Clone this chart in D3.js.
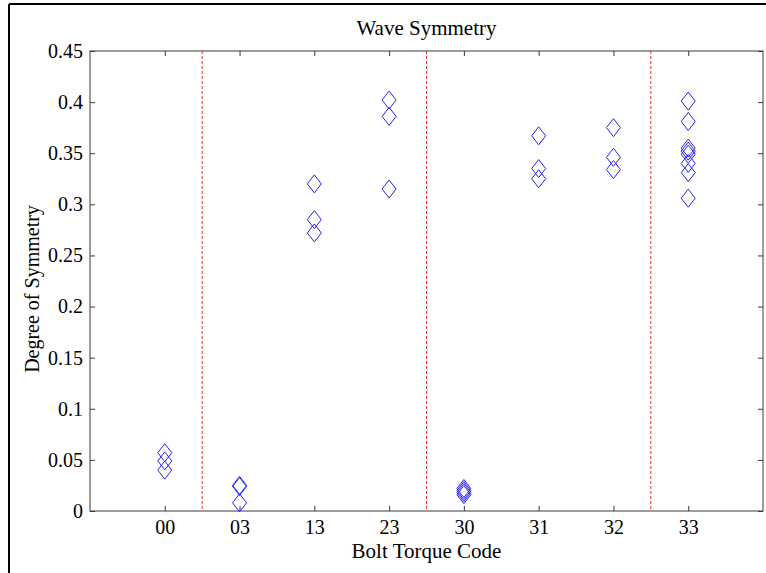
<!DOCTYPE html>
<html>
<head>
<meta charset="utf-8">
<script src="https://cdn.jsdelivr.net/npm/d3@7"></script>
<style>
  html, body { margin: 0; padding: 0; background: #fff; }
  svg { display: block; font-family: "Liberation Serif", "Times New Roman", serif; }
</style>
</head>
<body>
<svg id="chart" width="766" height="573"></svg>
<script>
// Bolt torque codes along the x axis
const categories = ["00", "03", "13", "23", "30", "31", "32", "33"];

// Degree of symmetry measured for each code
const values00 = [0.057, 0.049, 0.040];
const values03 = [0.025, 0.024, 0.008];
const values13 = [0.320, 0.285, 0.272];
const values23 = [0.402, 0.386, 0.315];
const values30 = [0.022, 0.020, 0.018, 0.016];
const values31 = [0.367, 0.335, 0.325];
const values32 = [0.375, 0.346, 0.334];
const values33 = [0.401, 0.381, 0.355, 0.352, 0.349, 0.340, 0.331, 0.306];

const seriesValues = [values00, values03, values13, values23, values30, values31, values32, values33];

// Group separators (between category positions)
const separators = [1.5, 4.5, 7.5];

const yTicks = [0, 0.05, 0.1, 0.15, 0.2, 0.25, 0.3, 0.35, 0.4, 0.45];
const yTickLabels = ["0", "0.05", "0.1", "0.15", "0.2", "0.25", "0.3", "0.35", "0.4", "0.45"];

const svg = d3.select("#chart");
const plotL = 90, plotR = 763, plotT = 51, plotB = 511;

const x = d3.scaleLinear().domain([0, categories.length + 1]).range([plotL, plotR]);
const y = d3.scaleLinear().domain([0, 0.45]).range([plotB, plotT]);

// outer frame
svg.append("line").attr("x1", 9).attr("x2", 9).attr("y1", 4).attr("y2", 573)
  .attr("stroke", "#000").attr("stroke-width", 2);
svg.append("line").attr("x1", 9).attr("x2", 766).attr("y1", 4).attr("y2", 4)
  .attr("stroke", "#000").attr("stroke-width", 2);

// plot box
svg.append("rect").attr("x", plotL).attr("y", plotT)
  .attr("width", plotR - plotL).attr("height", plotB - plotT)
  .attr("fill", "#fff").attr("stroke", "#3a3a3a").attr("stroke-width", 1);

const catPos = categories.map((c, i) => i + 1);
const tickLen = 5;
const fontSize = 20;
const labelSize = 21;

// bottom axis
const xAxis = d3.axisBottom(x).tickValues(catPos)
  .tickFormat((d) => categories[d - 1]).tickSizeInner(-tickLen).tickSizeOuter(0).tickPadding(9);
const gx = svg.append("g").attr("transform", `translate(0,${plotB})`).call(xAxis);
gx.select(".domain").remove();
gx.selectAll("line").attr("stroke", "#3a3a3a");
gx.selectAll("text").attr("font-size", fontSize).attr("fill", "#000")
  .attr("font-family", "Liberation Serif, Times New Roman, serif");

// top ticks
const gxt = svg.append("g").attr("transform", `translate(0,${plotT})`)
  .call(d3.axisTop(x).tickValues(catPos).tickFormat("").tickSizeInner(-tickLen).tickSizeOuter(0));
gxt.select(".domain").remove();
gxt.selectAll("line").attr("stroke", "#3a3a3a");

// left axis
const yAxis = d3.axisLeft(y).tickValues(yTicks)
  .tickFormat((d, i) => yTickLabels[i]).tickSizeInner(-tickLen).tickSizeOuter(0).tickPadding(7);
const gy = svg.append("g").attr("transform", `translate(${plotL},0)`).call(yAxis);
gy.select(".domain").remove();
gy.selectAll("line").attr("stroke", "#3a3a3a");
gy.selectAll("text").attr("font-size", fontSize).attr("fill", "#000")
  .attr("font-family", "Liberation Serif, Times New Roman, serif");

// right ticks
const gyr = svg.append("g").attr("transform", `translate(${plotR},0)`)
  .call(d3.axisRight(y).tickValues(yTicks).tickFormat("").tickSizeInner(-tickLen).tickSizeOuter(0));
gyr.select(".domain").remove();
gyr.selectAll("line").attr("stroke", "#3a3a3a");

// dashed group separators
svg.append("g").selectAll("line").data(separators).join("line")
  .attr("x1", (d) => x(d)).attr("x2", (d) => x(d))
  .attr("y1", plotT).attr("y2", plotB)
  .attr("stroke", "#e8302c").attr("stroke-width", 1)
  .attr("stroke-dasharray", "3,2");

// diamond markers
const points = [];
seriesValues.forEach((vals, i) => vals.forEach((v) => points.push({ c: i + 1, v })));
const hw = 7, hh = 9;
svg.append("g").selectAll("path").data(points).join("path")
  .attr("d", (d) => {
    const cx = x(d.c), cy = y(d.v);
    return `M${cx},${cy - hh}L${cx + hw},${cy}L${cx},${cy + hh}L${cx - hw},${cy}Z`;
  })
  .attr("fill", "none").attr("stroke", "#2323f0").attr("stroke-width", 1);

// title and axis labels
svg.append("text").attr("x", (plotL + plotR) / 2).attr("y", 35)
  .attr("text-anchor", "middle").attr("font-size", labelSize).text("Wave Symmetry");
svg.append("text").attr("x", (plotL + plotR) / 2).attr("y", 558)
  .attr("text-anchor", "middle").attr("font-size", labelSize).text("Bolt Torque Code");
svg.append("text").attr("transform", `translate(39,289) rotate(-90)`)
  .attr("text-anchor", "middle").attr("font-size", 20).text("Degree of Symmetry");
</script>
</body>
</html>
